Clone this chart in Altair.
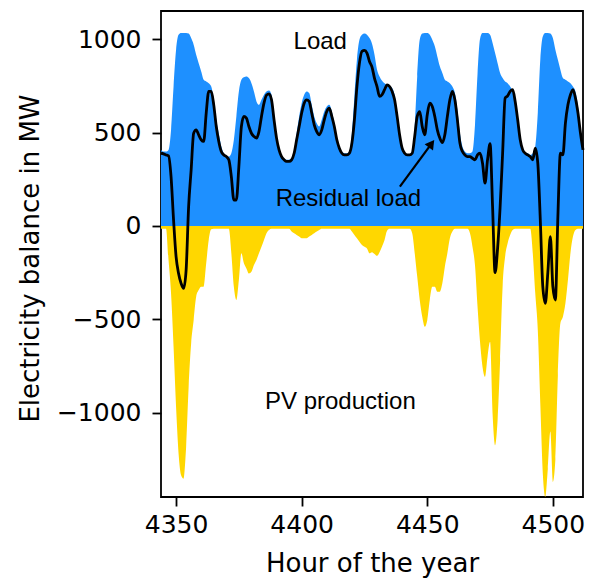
import altair as alt
import pandas as pd

# Hour of the year (one week, hourly)
hours = list(range(4344, 4513))

# Load in MW (blue area)
load = [
    407, 398, 398, 407, 514, 746, 943, 1023, 1032, 1032, 1032, 1029,
    1005, 970, 916, 871, 827, 782, 773, 764, 746, 675, 568, 496,
    425, 389, 371, 371, 389, 460, 586, 720, 782, 796, 800, 791,
    764, 720, 666, 648, 675, 702, 720, 725, 702, 595, 487, 416,
    380, 362, 354, 354, 362, 407, 496, 586, 657, 702, 720, 711,
    648, 586, 550, 532, 568, 612, 639, 648, 612, 550, 470, 425,
    398, 389, 389, 398, 496, 693, 889, 996, 1023, 1029, 1023, 1005,
    975, 916, 836, 800, 777, 764, 755, 750, 738, 702, 604, 496,
    425, 393, 380, 380, 398, 532, 800, 996, 1029, 1032, 1032, 1023,
    996, 961, 907, 854, 818, 782, 773, 764, 746, 711, 621, 496,
    425, 398, 389, 389, 398, 540, 810, 1000, 1032, 1032, 1032, 1023,
    979, 925, 871, 818, 791, 773, 764, 746, 720, 657, 550, 443,
    398, 389, 389, 380, 389, 425, 604, 889, 1014, 1032, 1032, 1029,
    1005, 943, 889, 836, 791, 782, 773, 764, 746, 720, 639, 514,
    407,
]

# PV production in MW (yellow area, drawn downward)
pv = [
    15, 15, 15, 182, 361, 646, 968, 1218, 1334, 1352, 1182, 861,
    629, 504, 379, 343, 325, 325, 200, 75, 18, 15, 15, 15,
    15, 15, 15, 15, 146, 325, 396, 289, 146, 200, 227, 254,
    245, 209, 182, 146, 111, 75, 39, 21, 15, 15, 15, 15,
    15, 15, 15, 15, 30, 39, 48, 57, 66, 66, 66, 57,
    48, 39, 30, 21, 15, 15, 15, 15, 15, 15, 15, 15,
    15, 15, 15, 15, 30, 48, 66, 84, 102, 111, 120, 146,
    140, 150, 160, 140, 110, 75, 25, 15, 15, 15, 15, 15,
    15, 15, 15, 15, 39, 146, 271, 396, 486, 539, 504, 396,
    325, 325, 352, 352, 307, 218, 146, 66, 30, 15, 15, 15,
    15, 15, 15, 39, 111, 210, 430, 620, 754, 807, 700, 620,
    1004, 1173, 1039, 720, 325, 164, 93, 48, 21, 15, 15, 15,
    15, 15, 15, 15, 146, 361, 557, 950, 1325, 1450, 1300, 1100,
    1370, 1250, 800, 521, 486, 414, 289, 146, 57, 21, 15, 15,
    15,
]

# Residual load in MW (black line)
residual = [
    389, 386, 380, 375, 264, 32, -164, -254, -307, -334, -236, 104,
    300, 496, 514, 487, 461, 452, 604, 720, 720, 648, 532, 452,
    398, 380, 371, 354, 264, 139, 139, 318, 532, 586, 577, 532,
    496, 479, 470, 505, 586, 657, 700, 707, 675, 568, 470, 407,
    371, 354, 345, 345, 354, 389, 461, 532, 604, 657, 675, 666,
    604, 541, 505, 488, 514, 568, 612, 630, 586, 532, 461, 416,
    389, 380, 380, 389, 443, 568, 746, 871, 934, 939, 925, 880,
    850, 790, 746, 693, 702, 729, 755, 746, 720, 675, 586, 487,
    416, 389, 380, 380, 389, 479, 586, 612, 532, 488, 595, 657,
    639, 586, 514, 470, 446, 488, 586, 675, 720, 675, 568, 443,
    398, 380, 371, 371, 362, 354, 380, 389, 336, 229, 354, 440,
    104, -250, -120, 100, 389, 684, 696, 720, 729, 666, 568, 461,
    407, 389, 380, 371, 354, 416, 336, 32, -325, -414, -250, -57,
    -325, -396, 50, 389, 380, 550, 648, 702, 729, 684, 604, 496,
    407,
]

assert len(hours) == len(load) == len(pv) == len(residual)

x_ticks = [4350, 4400, 4450, 4500]
y_ticks = [-1000, -500, 0, 500, 1000]
x_domain = [4344, 4512]
y_domain = [-1450, 1150]

# annotation labels
labels = ["Load", "Residual load", "PV production"]
label_x = [4407.4, 4418.6, 4415.4]
label_y = [985, 145, -943]
arrow_start = (4439.1, 210)
arrow_head = (4451.7, 440)

df = pd.DataFrame({"hour": hours, "load": load, "pv": pv, "residual": residual})
df_lab = pd.DataFrame({"x": label_x, "y": label_y, "text": labels})
df_arrow = pd.DataFrame({"x": [arrow_start[0]], "y": [arrow_start[1]],
                         "x2": [arrow_head[0]], "y2": [arrow_head[1]]})

xs = alt.Scale(domain=x_domain, nice=False, zero=False)
ys = alt.Scale(domain=y_domain, nice=False, zero=False)

x_axis = alt.Axis(values=x_ticks, format="d", title="Hour of the year",
                  grid=False, domain=False, tickSize=9, tickWidth=1.8,
                  tickColor="black", labelFont="DejaVu Sans", labelFontSize=25,
                  labelColor="black", labelPadding=6, titleFont="DejaVu Sans",
                  titleFontSize=26, titleFontWeight="normal", titleColor="black",
                  titleBaseline="alphabetic", titleY=74)
y_axis = alt.Axis(values=y_ticks, format="d", title="Electricity balance in MW",
                  grid=False, domain=False, tickSize=9, tickWidth=1.8,
                  tickColor="black", labelFont="DejaVu Sans", labelFontSize=25,
                  labelColor="black", labelPadding=11, titleFont="DejaVu Sans",
                  titleFontSize=26, titleFontWeight="normal", titleColor="black",
                  titleAngle=-90, titleBaseline="alphabetic", titleAlign="center",
                  titleX=-123, titleY=247)

base = alt.Chart(df)

load_area = base.mark_area(color="#1E90FF", opacity=1, interpolate="monotone").encode(
    x=alt.X("hour:Q", scale=xs, axis=x_axis),
    y=alt.Y("load:Q", scale=ys, axis=y_axis, stack=None),
)

pv_area = base.transform_calculate(pvneg="-datum.pv").mark_area(
    color="#FFD700", opacity=1, interpolate="monotone").encode(
    x=alt.X("hour:Q", scale=xs),
    y=alt.Y("pvneg:Q", scale=ys, stack=None),
)

res_line = base.mark_line(color="black", strokeWidth=2.8, interpolate="monotone").encode(
    x=alt.X("hour:Q", scale=xs),
    y=alt.Y("residual:Q", scale=ys),
)

texts = alt.Chart(df_lab).mark_text(font="Liberation Sans", fontSize=24,
                                    color="black", align="center",
                                    baseline="middle").encode(
    x=alt.X("x:Q", scale=xs),
    y=alt.Y("y:Q", scale=ys),
    text="text:N",
)

arrow_line = alt.Chart(df_arrow).mark_rule(color="black", strokeWidth=2.2).encode(
    x=alt.X("x:Q", scale=xs), y=alt.Y("y:Q", scale=ys),
    x2="x2:Q", y2="y2:Q",
)
arrow_tip = alt.Chart(df_arrow).mark_point(shape="triangle-up", filled=True,
                                           color="black", opacity=1, size=110,
                                           angle=37).encode(
    x=alt.X("x2:Q", scale=xs), y=alt.Y("y2:Q", scale=ys),
)

chart = alt.layer(load_area, pv_area, res_line, texts, arrow_line, arrow_tip).properties(
    width=422, height=486,
    padding={"left": 161, "top": 11, "right": 10, "bottom": 82},
    autosize=alt.AutoSizeParams(type="none"),
    background="white",
).configure_view(stroke="black", strokeWidth=1.8)

chart.save("out.html", embed_options={"renderer": "svg", "actions": False})
